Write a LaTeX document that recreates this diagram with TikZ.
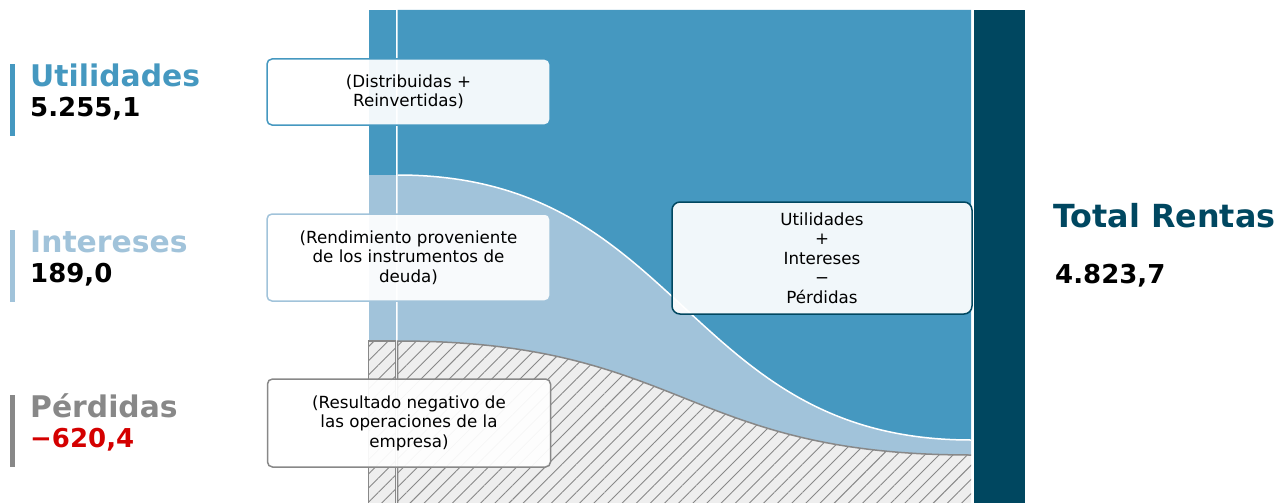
\documentclass[tikz,border=0pt]{standalone}
\usepackage{fontspec}
\setmainfont{DejaVu Sans}
\usepackage{tikz}
\usetikzlibrary{patterns.meta}
\definecolor{utilblue}{HTML}{4598C0}
\definecolor{intblue}{HTML}{A1C3DA}
\definecolor{totblue}{HTML}{004760}
\definecolor{perdgray}{HTML}{888888}
\definecolor{hatchbg}{HTML}{EEEEEE}
\definecolor{negred}{HTML}{D40000}
\tikzstyle{notebox} = [draw, fill=white, fill opacity=0.93, text opacity=1, line width=1.5pt, rectangle, rounded corners=5pt, minimum width=283pt, align=center, font=\fontsize{16.7}{19.5}\selectfont]
\tikzstyle{sidetitle} = [anchor=base west, inner sep=0pt, font=\fontsize{29.8}{35}\selectfont\bfseries]
\tikzstyle{sideval} = [anchor=base west, inner sep=0pt, font=\fontsize{26}{31}\selectfont\bfseries]
\tikzstyle{hatched} = [preaction={fill=hatchbg}, pattern={Lines[angle=45,distance=10pt,line width=0.9pt]}, pattern color=perdgray]

\begin{document}
\begin{tikzpicture}[x=1pt, y=-1pt]
\useasboundingbox (0,0) rectangle (1288,503);
\clip (0,0) rectangle (1288,503);

% left column
\fill[utilblue] (368.5,10) rectangle (395.5,175);
\fill[intblue] (368.5,175) rectangle (395.5,341);
\fill[hatched] (368.5,341) rectangle (395.5,510);
\draw[perdgray, line width=1.5pt] (368.5,510) -- (368.5,341) -- (395.5,341) -- (395.5,510);

% flows
\fill[utilblue] (397.5,10) -- (971,10) -- (971,440) .. controls (684,440) and (684,175) .. (397.5,175) -- cycle;
\fill[intblue] (397.5,175) .. controls (684,175) and (684,440) .. (971,440) -- (971,455) .. controls (684,455) and (684,341) .. (397.5,341) -- cycle;
\fill[hatched] (397.5,341) .. controls (684,341) and (684,455) .. (971,455) -- (971,510) -- (397.5,510) -- cycle;
\draw[white, line width=1.5pt] (397.5,175) .. controls (684,175) and (684,440) .. (971,440);
\draw[perdgray, line width=1.5pt] (397.5,510) -- (397.5,341) .. controls (684,341) and (684,455) .. (971,455);

% total bar
\fill[totblue] (974,10) rectangle (1025,510);

% side labels
\fill[utilblue] (10,64) rectangle (15,136);
\fill[intblue] (10,230) rectangle (15,302);
\fill[perdgray] (10,395) rectangle (15,467);
\node[sidetitle, text=utilblue] (utiltitle) at (30,86) {Utilidades};
\node[sideval] (utilval) at (30,116) {5.255,1};
\node[sidetitle, text=intblue] (inttitle) at (30,252) {Intereses};
\node[sideval] (intval) at (30,282) {189,0};
\node[sidetitle, text=perdgray] (perdtitle) at (30,417) {Pérdidas};
\node[sideval, text=negred] (perdval) at (30,447) {−620,4};

% notes
\node[notebox, draw=utilblue, minimum height=66pt] (distbox) at (408.5,92) {(Distribuidas +\\Reinvertidas)};
\node[notebox, draw=intblue, minimum height=87pt] (rendbox) at (408.5,257.5) {(Rendimiento proveniente\\de los instrumentos de\\deuda)};
\node[notebox, draw=perdgray, minimum height=88pt] (resbox) at (409,423) {(Resultado negativo de\\las operaciones de la\\empresa)};
\node[notebox, draw=totblue, rounded corners=8pt, minimum width=300pt, minimum height=112pt] (sumbox) at (822,258) {Utilidades\\+\\Intereses\\−\\Pérdidas};

% total
\node[anchor=base west, inner sep=0pt, text=totblue, font=\fontsize{31.8}{37}\selectfont\bfseries] (tottitle) at (1053,227) {Total Rentas};
\node[anchor=base west, inner sep=0pt, font=\fontsize{26}{31}\selectfont\bfseries] (totval) at (1055,283) {4.823,7};
\end{tikzpicture}
\end{document}
